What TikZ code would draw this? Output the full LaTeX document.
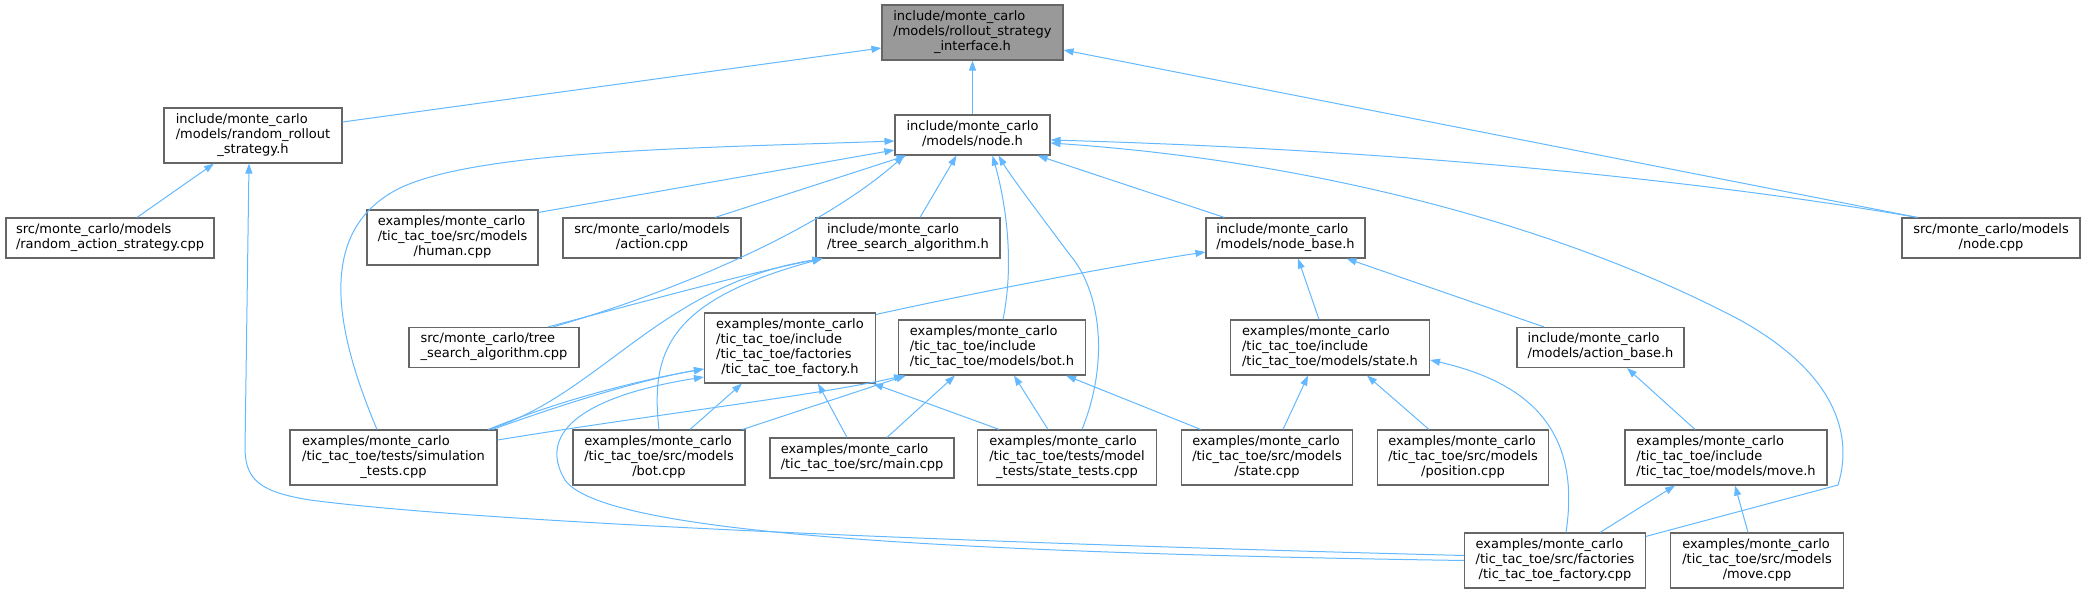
\documentclass[tikz,border=0pt]{standalone}
\usepackage{fontspec}
\setmainfont{DejaVu Sans}
\usetikzlibrary{arrows.meta}
\definecolor{edgeblue}{HTML}{63B8FF}
\definecolor{boxborder}{HTML}{666666}
\definecolor{rootfill}{HTML}{999999}
% left-aligned lines, last line centred (graphviz style)
\newcommand{\flabel}[2]{\begin{tabular}{@{}l@{}}#1\\\multicolumn{1}{@{}c@{}}{#2}\end{tabular}}

\begin{document}
\begin{tikzpicture}[
    x=1pt, y=-1pt,
    every node/.style={font=\fontsize{13}{15}\selectfont},
    filebox/.style={draw=boxborder, fill=white, line width=1.1pt,
        inner xsep=0pt, inner ysep=5pt, minimum width=#1},
    rootbox/.style={filebox=#1, fill=rootfill},
    incl/.style={-{Triangle[length=10pt,width=7pt]}, edgeblue, line width=1pt},
]
\useasboundingbox (0,0) rectangle (2086,593);

% === Root header ===
\node[rootbox=181pt] (iface) at (972.5,32.5)
    {\flabel{include/monte\_carlo\\/models/rollout\_strategy}{\_interface.h}};

% === Second row ===
\node[filebox=178pt] (rrs) at (253,135.5)
    {\flabel{include/monte\_carlo\\/models/random\_rollout}{\_strategy.h}};
\node[filebox=155pt] (nodeh) at (972.5,135)
    {\flabel{include/monte\_carlo}{/models/node.h}};

% === Third row ===
\node[filebox=208pt] (ras) at (110,238)
    {\flabel{src/monte\_carlo/models}{/random\_action\_strategy.cpp}};
\node[filebox=171pt] (human) at (452.5,237.5)
    {\flabel{examples/monte\_carlo\\/tic\_tac\_toe/src/models}{/human.cpp}};
\node[filebox=178pt] (action) at (652,238)
    {\flabel{src/monte\_carlo/models}{/action.cpp}};
\node[filebox=184pt] (tsah) at (908,238)
    {\flabel{include/monte\_carlo}{/tree\_search\_algorithm.h}};
\node[filebox=159pt] (nodebase) at (1285.5,238)
    {\flabel{include/monte\_carlo}{/models/node\_base.h}};
\node[filebox=178pt] (nodecpp) at (1991,238)
    {\flabel{src/monte\_carlo/models}{/node.cpp}};

% === Fourth row ===
\node[filebox=170pt] (tsacpp) at (494,347.5)
    {\flabel{src/monte\_carlo/tree}{\_search\_algorithm.cpp}};
\node[filebox=171pt] (facth) at (790,348)
    {\flabel{examples/monte\_carlo\\/tic\_tac\_toe/include\\/tic\_tac\_toe/factories}{/tic\_tac\_toe\_factory.h}};
\node[filebox=187pt] (both) at (992,347.5)
    {\flabel{examples/monte\_carlo\\/tic\_tac\_toe/include}{/tic\_tac\_toe/models/bot.h}};
\node[filebox=199pt] (stateh) at (1330,347.5)
    {\flabel{examples/monte\_carlo\\/tic\_tac\_toe/include}{/tic\_tac\_toe/models/state.h}};
\node[filebox=167pt] (actbase) at (1600.5,347.5)
    {\flabel{include/monte\_carlo}{/models/action\_base.h}};

% === Fifth row ===
\node[filebox=207pt] (simtests) at (393.5,457.5)
    {\flabel{examples/monte\_carlo\\/tic\_tac\_toe/tests/simulation}{\_tests.cpp}};
\node[filebox=172pt] (botcpp) at (659,457.5)
    {\flabel{examples/monte\_carlo\\/tic\_tac\_toe/src/models}{/bot.cpp}};
\node[filebox=184pt] (maincpp) at (862,458)
    {\flabel{examples/monte\_carlo}{/tic\_tac\_toe/src/main.cpp}};
\node[filebox=178.5pt] (statetests) at (1067,457.5)
    {\flabel{examples/monte\_carlo\\/tic\_tac\_toe/tests/model}{\_tests/state\_tests.cpp}};
\node[filebox=171.5pt] (statecpp) at (1267,457.5)
    {\flabel{examples/monte\_carlo\\/tic\_tac\_toe/src/models}{/state.cpp}};
\node[filebox=171.5pt] (poscpp) at (1463,457.5)
    {\flabel{examples/monte\_carlo\\/tic\_tac\_toe/src/models}{/position.cpp}};
\node[filebox=202pt] (moveh) at (1726,457.5)
    {\flabel{examples/monte\_carlo\\/tic\_tac\_toe/include}{/tic\_tac\_toe/models/move.h}};

% === Bottom row ===
\node[filebox=180.5pt] (factcpp) at (1555,560.5)
    {\flabel{examples/monte\_carlo\\/tic\_tac\_toe/src/factories}{/tic\_tac\_toe\_factory.cpp}};
\node[filebox=172.5pt] (movecpp) at (1757,560.5)
    {\flabel{examples/monte\_carlo\\/tic\_tac\_toe/src/models}{/move.cpp}};

% === Includes of the root ===
\draw[incl] ([yshift=13.5pt]rrs.east) -- ([yshift=-15.5pt]iface.west);
\draw[incl] (nodeh.north) -- (iface.south);
\draw[incl] ([xshift=16pt]nodecpp.north west) -- ([yshift=-17.5pt]iface.east);

% === random_rollout_strategy.h ===
\draw[incl] ([xshift=27pt]ras.north) -- ([xshift=-39pt]rrs.south);
\draw[incl] ([yshift=5pt]factcpp.west) .. controls (1050,545) and (500,525) .. (310,500)
    .. controls (260,492) and (246,480) .. (245,450) -- ([xshift=-4pt]rrs.south);

% === node.h ===
\draw[incl] ([xshift=-16.5pt]simtests.north) .. controls (335,330) and (315,230) .. (400,188)
    .. controls (480,150) and (700,148) .. ([yshift=-6pt]nodeh.west);
\draw[incl] ([yshift=-3pt]human.north east) -- ([yshift=-15pt]nodeh.west);
\draw[incl] ([xshift=63pt]action.north) -- ([xshift=12pt]nodeh.south west);
\draw[incl] ([xshift=59pt]tsacpp.north) .. controls (680,290) and (820,230) .. ([xshift=10pt]nodeh.south west);
\draw[incl] ([xshift=12pt]tsah.north) -- ([xshift=-16pt]nodeh.south);
\draw[incl] ([xshift=11pt]both.north) .. controls (1015,260) and (1005,200) .. ([xshift=20pt]nodeh.south);
\draw[incl] ([xshift=15pt]statetests.north) .. controls (1110,360) and (1100,290) .. (1070,255)
    .. controls (1040,215) and (1010,175) .. ([xshift=26pt]nodeh.south);
\draw[incl] ([xshift=19pt]nodebase.north west) -- ([xshift=-13pt]nodeh.south east);
\draw[incl] ([yshift=-4pt]factcpp.north east) -- (1838,485) .. controls (1855,430) and (1830,370) .. (1740,320)
    .. controls (1550,220) and (1300,160) .. ([yshift=-8pt]nodeh.east);
\draw[incl] ([xshift=16pt]nodecpp.north west) .. controls (1700,180) and (1400,150) .. ([yshift=-5pt]nodeh.east);

% === tree_search_algorithm.h ===
\draw[incl] ([xshift=54pt]tsacpp.north) .. controls (650,300) and (760,270) .. ([xshift=7pt]tsah.south west);
\draw[incl] ([xshift=-9pt]simtests.north east) .. controls (600,395) and (660,285) .. ([xshift=7pt]tsah.south west);
\draw[incl] (botcpp.north) .. controls (650,350) and (670,300) .. ([xshift=7pt]tsah.south west);

% === node_base.h ===
\draw[incl] ([yshift=-2pt]facth.north east) .. controls (950,298) and (1100,268) .. ([yshift=-14pt]nodebase.west);
\draw[incl] ([xshift=-11pt]stateh.north) -- ([xshift=12.5pt]nodebase.south);
\draw[incl] ([xshift=-56.5pt]actbase.north) -- ([xshift=-19pt]nodebase.south east);

% === tic_tac_toe_factory.h ===
\draw[incl] ([xshift=-9pt]simtests.north east) .. controls (560,400) and (640,380) .. ([yshift=-21pt]facth.west);
\draw[incl] ([xshift=-5pt]simtests.north east) .. controls (580,398) and (650,378) .. ([yshift=-21pt]facth.west);
\draw[incl] ([xshift=31pt]botcpp.north) -- ([xshift=-48pt]facth.south);
\draw[incl] ([xshift=-15pt]maincpp.north) -- ([xshift=28pt]facth.south);
\draw[incl] ([xshift=22pt]statetests.north west) -- ([xshift=-3pt]facth.south east);
\draw[incl] (factcpp.west) .. controls (900,552) and (600,530) .. (565,480)
    .. controls (535,430) and (590,395) .. ([yshift=-29pt]facth.west);

% === bot.h ===
\draw[incl] ([yshift=17.5pt]simtests.east) .. controls (650,415) and (820,395) .. ([xshift=6pt]both.south west);
\draw[incl] ([xshift=-3pt]botcpp.north east) -- ([xshift=8pt]both.south west);
\draw[incl] ([xshift=25pt]maincpp.north) -- ([xshift=-37pt]both.south);
\draw[incl] ([xshift=-19pt]statetests.north) -- ([xshift=22pt]both.south);
\draw[incl] ([xshift=20pt]statecpp.north west) -- ([xshift=-20pt]both.south east);

% === state.h ===
\draw[incl] ([xshift=16pt]statecpp.north) -- ([xshift=-22pt]stateh.south);
\draw[incl] ([xshift=-34pt]poscpp.north) -- ([xshift=37pt]stateh.south);
\draw[incl] ([xshift=11pt]factcpp.north) .. controls (1580,440) and (1540,385) .. ([yshift=-12.5pt]stateh.east);

% === action_base.h and move.h ===
\draw[incl] ([xshift=-31pt]moveh.north) -- ([xshift=26.5pt]actbase.south);
\draw[incl] ([xshift=45pt]factcpp.north) -- ([xshift=-51pt]moveh.south);
\draw[incl] ([xshift=-9pt]movecpp.north) -- ([xshift=9pt]moveh.south);

\end{tikzpicture}
\end{document}
